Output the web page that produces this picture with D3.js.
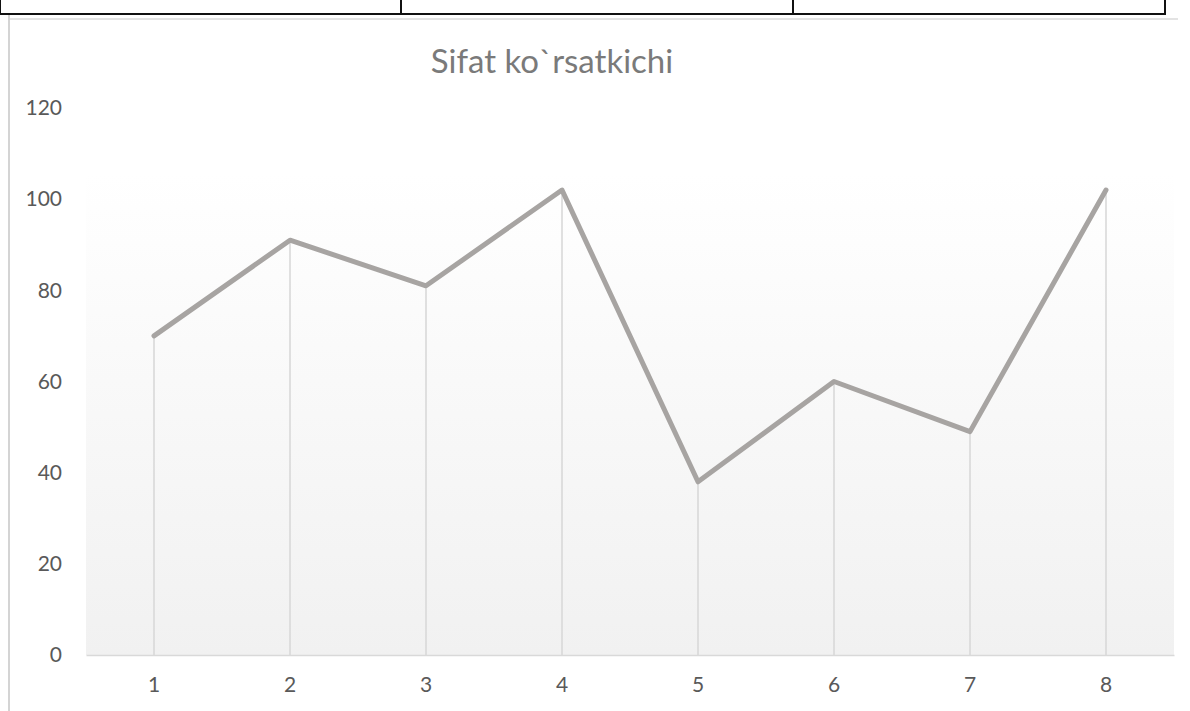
<!DOCTYPE html>
<html>
<head>
<meta charset="utf-8">
<script src="https://cdn.jsdelivr.net/npm/d3@7/dist/d3.min.js"></script>
<style>
  html, body { margin: 0; padding: 0; background: #fff; }
  svg { display: block; }
</style>
</head>
<body>
<svg id="chart" width="1190" height="711"></svg>
<script>
const title = "Sifat ko`rsatkichi";
const categories = ["1", "2", "3", "4", "5", "6", "7", "8"];
const values = [70, 91, 81, 102, 38, 60, 49, 102];
const yTicks = [0, 20, 40, 60, 80, 100, 120];

const svg = d3.select("#chart");
const W = 1190, H = 711;
const plot = { left: 86, right: 1174, top: 108, bottom: 655 };

// page decorations (table border above chart)
svg.append("line").attr("x1", 9).attr("x2", 1178).attr("y1", 19).attr("y2", 19)
  .attr("stroke", "#e3e3e3").attr("stroke-width", 2);
svg.append("line").attr("x1", 9).attr("x2", 9).attr("y1", 14).attr("y2", H)
  .attr("stroke", "#d4d4d4").attr("stroke-width", 2);
svg.append("line").attr("x1", 0).attr("x2", 1166).attr("y1", 14).attr("y2", 14)
  .attr("stroke", "#111").attr("stroke-width", 2);
[0, 401, 793, 1165].forEach(x => {
  svg.append("line").attr("x1", x).attr("x2", x).attr("y1", 0).attr("y2", 15)
    .attr("stroke", "#111").attr("stroke-width", 2);
});

const x = d3.scaleBand().domain(categories).range([plot.left, plot.right]).padding(0);
const y = d3.scaleLinear().domain([0, 120]).range([plot.bottom, plot.top]);

const defs = svg.append("defs");
const grad = defs.append("linearGradient").attr("id", "bg")
  .attr("x1", 0).attr("y1", 0).attr("x2", 0).attr("y2", 1);
grad.append("stop").attr("offset", "0%").attr("stop-color", "#ffffff");
grad.append("stop").attr("offset", "12%").attr("stop-color", "#ffffff");
grad.append("stop").attr("offset", "100%").attr("stop-color", "#f1f1f1");

svg.append("rect")
  .attr("x", plot.left).attr("y", y(120))
  .attr("width", plot.right - plot.left).attr("height", y(0) - y(120))
  .attr("fill", "url(#bg)");

// title
svg.append("text")
  .attr("x", 552).attr("y", 73)
  .attr("text-anchor", "middle")
  .attr("font-family", "Lato, 'Open Sans', sans-serif")
  .attr("font-size", 33)
  .attr("fill", "#7a7a7a")
  .text(title);

// drop lines
svg.append("g").selectAll("line").data(values).join("line")
  .attr("x1", (d, i) => x(categories[i]) + x.bandwidth() / 2)
  .attr("x2", (d, i) => x(categories[i]) + x.bandwidth() / 2)
  .attr("y1", d => y(d)).attr("y2", y(0))
  .attr("stroke", "#d9d9d9").attr("stroke-width", 1.6);

// x axis
const xAxis = svg.append("g").attr("transform", `translate(0,${y(0)})`)
  .call(d3.axisBottom(x).tickSize(0).tickPadding(22));
xAxis.select(".domain").attr("stroke", "#d9d9d9").attr("stroke-width", 1.6);
xAxis.selectAll("text")
  .attr("font-family", "Lato, 'Open Sans', sans-serif")
  .attr("font-size", 21).attr("fill", "#595959");

// y axis (labels only)
const yAxis = svg.append("g").attr("transform", `translate(${plot.left},0)`)
  .call(d3.axisLeft(y).tickValues(yTicks).tickSize(0).tickPadding(24));
yAxis.select(".domain").remove();
yAxis.selectAll("text")
  .attr("font-family", "Lato, 'Open Sans', sans-serif")
  .attr("font-size", 21).attr("fill", "#595959");

// line
const line = d3.line()
  .x((d, i) => x(categories[i]) + x.bandwidth() / 2)
  .y(d => y(d));
svg.append("path").datum(values)
  .attr("d", line)
  .attr("fill", "none")
  .attr("stroke", "#a7a4a2")
  .attr("stroke-width", 5)
  .attr("stroke-linejoin", "round")
  .attr("stroke-linecap", "round");
</script>
</body>
</html>
